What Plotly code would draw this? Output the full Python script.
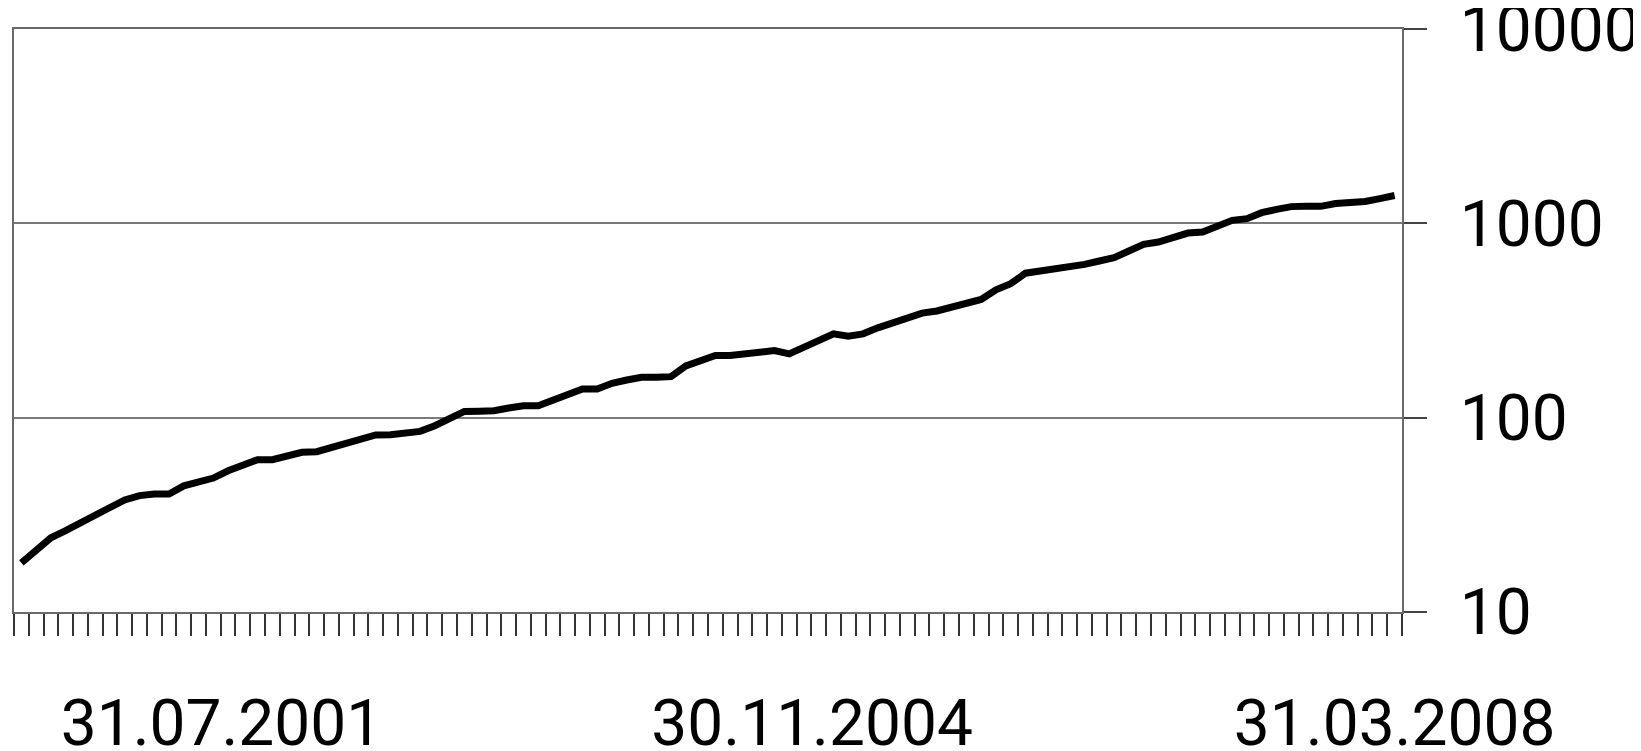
import calendar
import plotly.graph_objects as go

# Month-end dates (categories), June 2000 .. March 2008
dates = []
for yr in range(2000, 2009):
    for mo in range(1, 13):
        if (yr == 2000 and mo < 6) or (yr == 2008 and mo > 3):
            continue
        d = calendar.monthrange(yr, mo)[1]
        dates.append(f"{d:02d}.{mo:02d}.{yr}")

values = [
    17.9, 20.8, 24.1, 26.2, 28.5, 31.3, 34.5, 37.7, 39.7, 40.5,
    40.5, 44.6, 47.0, 48.9, 53.3, 57.3, 60.8, 60.8, 63.2, 66.3,
    66.8, 70.3, 73.8, 76.8, 81.5, 81.7, 84.0, 85.0, 90.9, 99.6,
    107.7, 108.0, 108.6, 112.2, 115.0, 115.0, 122.5, 132.4, 140.6, 140.6,
    150.3, 156.3, 161.4, 161.4, 162.6, 184.5, 195.0, 208.9, 208.9, 213.0,
    217.0, 221.5, 213.0, 230.0, 249.3, 270.0, 262.4, 270.0, 290.0, 306.0,
    325.0, 345.0, 354.0, 372.0, 391.5, 405.8, 455.0, 489.0, 554.0, 568.0,
    579.0, 595.0, 615.0, 640.0, 666.0, 720.0, 779.0, 801.0, 850.0, 891.0,
    902.0, 977.0, 1036.0, 1057.0, 1135.0, 1180.0, 1219.0, 1223.0, 1223.0, 1264.0,
    1274.0, 1296.0, 1340.0, 1390.0,
]

x_labels = ["31.07.2001", "30.11.2004", "31.03.2008"]
label_shift = [0.55, 0.55, 0.0]  # small horizontal placement tweak (category units)
y_ticks = [10, 100, 1000, 10000]
y_tick_text = ["10", "100", "1000", "10000"]

idx = list(range(len(dates)))

fig = go.Figure()
fig.add_trace(go.Scatter(
    x=idx, y=values, customdata=dates, mode="lines",
    line=dict(color="#000000", width=7),
    hovertemplate="%{customdata}: %{y}<extra></extra>",
    showlegend=False,
))

fig.update_layout(
    width=1641, height=751,
    margin=dict(l=6, r=247, t=21, b=147, autoexpand=False),
    paper_bgcolor="white", plot_bgcolor="white",
    font=dict(family="Roboto", size=64, color="#000000"),
    xaxis=dict(
        range=[-0.5, len(dates) - 0.5],
        automargin=False,
        tickmode="array",
        tickvals=[dates.index(d) + s for d, s in zip(x_labels, label_shift)],
        ticktext=x_labels,
        ticks="",
        showgrid=False, zeroline=False,
        showline=True, linecolor="#6a6a6a", linewidth=2, mirror=True,
        ticklabelstandoff=54,
        ticklabeloverflow="allow",
        minor=dict(
            tickmode="array",
            tickvals=[k - 0.5 for k in range(len(dates) + 1)],
            ticks="outside", ticklen=22, tickwidth=2, tickcolor="#333333",
            showgrid=False,
        ),
        tickfont=dict(family="Roboto", size=64, color="#000000"),
    ),
    yaxis=dict(
        type="log", side="right",
        range=[1, 4],
        automargin=False,
        tickmode="array", tickvals=y_ticks, ticktext=y_tick_text,
        ticks="outside", ticklen=23, tickwidth=2, tickcolor="#444444",
        showgrid=True, gridcolor="#7a7a7a", gridwidth=1.5,
        zeroline=False,
        showline=True, linecolor="#6a6a6a", linewidth=2, mirror=True,
        ticklabelstandoff=20,
        ticklabeloverflow="allow",
        tickfont=dict(family="Roboto", size=64, color="#000000"),
    ),
)

fig.write_html("out.html")
